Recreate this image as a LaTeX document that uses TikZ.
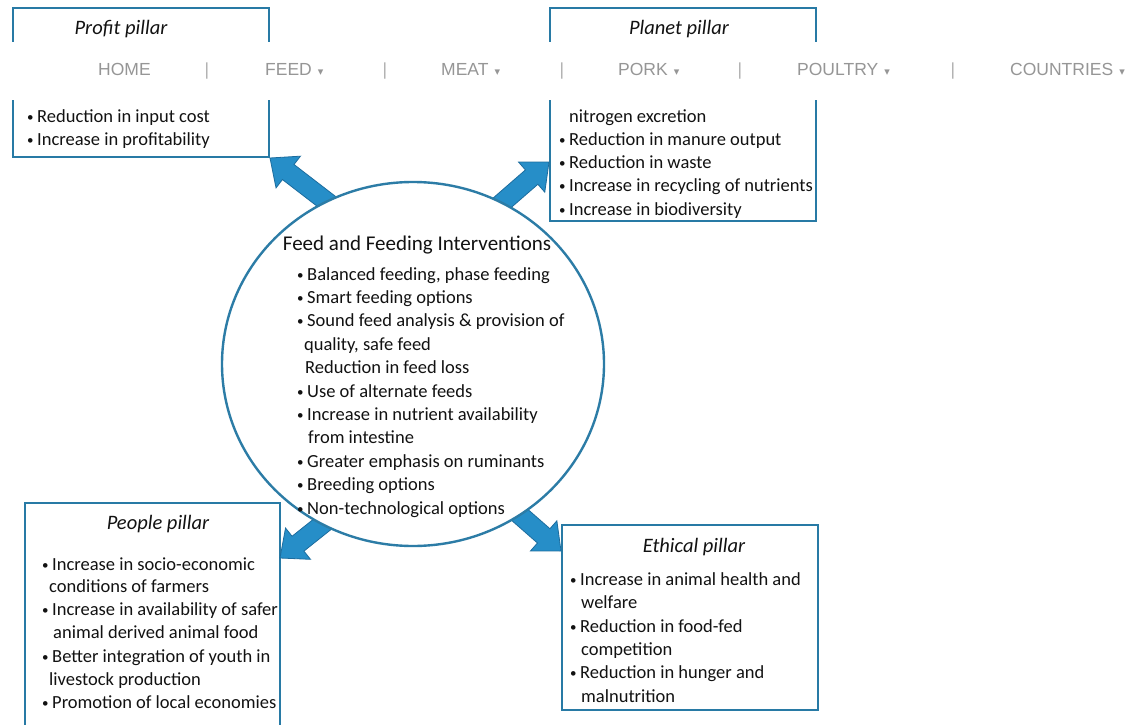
\documentclass[tikz,border=0pt]{standalone}
\usepackage{fontspec}
\setmainfont{Carlito}
\newfontfamily\navfont{Liberation Sans}
\newfontfamily\symfont{DejaVu Sans}
\usetikzlibrary{calc,shapes.geometric}
\definecolor{boxcol}{RGB}{40,122,165}
\definecolor{circcol}{RGB}{44,124,166}
\definecolor{arrfill}{RGB}{38,142,200}
\definecolor{arredge}{RGB}{28,108,158}
\definecolor{txtcol}{RGB}{18,18,18}
\definecolor{navcol}{RGB}{150,150,150}
\definecolor{sepcol}{RGB}{175,175,175}
\newcommand\pbul{\makebox[10pt][l]{\raisebox{1pt}{\fontsize{13}{13}\selectfont •}}}
\newcommand\caret{\hspace{6pt}{\symfont\fontsize{11}{11}\selectfont ▾}}
\newcommand\blockarrow[3]{%
  \coordinate (#1h) at ($(#3)!23pt!(#2)$);
  \draw[blk] ($(#2)!9.5pt!90:(#3)$) -- ($(#1h)!9.5pt!90:(#3)$) -- ($(#1h)!20pt!90:(#3)$) -- (#3)
    -- ($(#1h)!20pt!-90:(#3)$) -- ($(#1h)!9.5pt!-90:(#3)$) -- ($(#2)!9.5pt!-90:(#3)$) -- cycle;
}
\begin{document}
\begin{tikzpicture}[x=1pt,y=-1pt,
  box/.style={draw=boxcol,line width=2.6pt,fill=white,rectangle,inner sep=0pt,outer sep=0pt,anchor=north west},
  txt/.style={anchor=base west,inner sep=0pt,text=txtcol,font=\fontsize{18.5}{22}\selectfont},
  ttl/.style={anchor=base,inner sep=0pt,text=txtcol,font=\fontsize{20.5}{24}\selectfont\itshape},
  ctl/.style={anchor=base,inner sep=0pt,text=txtcol,font=\fontsize{21}{25}\selectfont},
  nav/.style={anchor=base west,inner sep=0pt,text=navcol,font=\navfont\fontsize{17.5}{20}\selectfont},
  navsep/.style={anchor=base,inner sep=0pt,text=sepcol,font=\navfont\fontsize{17.5}{20}\selectfont},
  blk/.style={fill=arrfill,draw=arredge,line width=0.8pt,line join=miter}]
\useasboundingbox (0,0) rectangle (1135,725);
\fill[white] (0,0) rectangle (1135,725);

% pillar boxes
\node[box,minimum width=256pt,minimum height=149pt] (profit) at (13,8) {};
\node[box,minimum width=266pt,minimum height=213pt] (planet) at (550,8) {};
\node[box,minimum width=255pt,minimum height=227pt] (people) at (25,503) {};
\node[box,minimum width=256pt,minimum height=185pt] (ethical) at (562,525) {};

% block arrows (tails hidden under the ellipse)
\coordinate (s1) at (335,208);
\coordinate (s2) at (495,209);
\coordinate (s3) at (334,515);
\coordinate (s4) at (505,502);
\coordinate (t1) at ($(profit.south east)+(1,1)$);
\coordinate (t2) at ($(planet.north west)+(-1,154)$);
\coordinate (t3) at ($(people.north east)+(0,55)$);
\coordinate (t4) at ($(ethical.north west)+(-1,26)$);
\blockarrow{a1}{s1}{t1}
\blockarrow{a2}{s2}{t2}
\blockarrow{a3}{s3}{t3}
\blockarrow{a4}{s4}{t4}

% central ellipse
\node[ellipse,draw=circcol,line width=2.4pt,fill=white,minimum width=382pt,minimum height=364pt,inner sep=0pt,outer sep=0pt] (circ) at (413,364) {};

% profit text
\node[ttl] (prT) at (121,35) {Profit pillar};
\node[txt] (pr1) at (27,122) {\pbul Reduction in input cost};
\node[txt] (pr2) at (27,145) {\pbul Increase in profitability};

% planet text
\node[ttl] (plT) at (679,35) {Planet pillar};
\node[txt] (pl1) at (569,122) {nitrogen excretion};
\node[txt] (pl2) at (559,145) {\pbul Reduction in manure output};
\node[txt] (pl3) at (559,168) {\pbul Reduction in waste};
\node[txt] (pl4) at (559,191) {\pbul Increase in recycling of nutrients};
\node[txt] (pl5) at (559,215) {\pbul Increase in biodiversity};

% circle text
\node[ctl] (cT) at (417,250) {Feed and Feeding Interventions};
\node[txt] (c1) at (297,280) {\pbul Balanced feeding, phase feeding};
\node[txt] (c2) at (297,303.4) {\pbul Smart feeding options};
\node[txt] (c3) at (297,326.8) {\pbul Sound feed analysis \& provision of};
\node[txt] (c4) at (304,350.2) {quality, safe feed};
\node[txt] (c5) at (305,373.6) {Reduction in feed loss};
\node[txt] (c6) at (297,397) {\pbul Use of alternate feeds};
\node[txt] (c7) at (297,420.4) {\pbul Increase in nutrient availability};
\node[txt] (c8) at (308,443.8) {from intestine};
\node[txt] (c9) at (297,467.2) {\pbul Greater emphasis on ruminants};
\node[txt] (c10) at (297,490.6) {\pbul Breeding options};
\node[txt] (c11) at (297,514) {\pbul Non-technological options};

% people text
\node[ttl] (peT) at (158,529) {People pillar};
\node[txt] (pe1) at (42,570) {\pbul Increase in socio-economic};
\node[txt] (pe2) at (49,592) {conditions of farmers};
\node[txt] (pe3) at (42,615) {\pbul Increase in availability of safer};
\node[txt] (pe4) at (53,638) {animal derived animal food};
\node[txt] (pe5) at (42,662) {\pbul Better integration of youth in};
\node[txt] (pe6) at (49,685) {livestock production};
\node[txt] (pe7) at (42,708) {\pbul Promotion of local economies};

% ethical text
\node[ttl] (etT) at (694,552) {Ethical pillar};
\node[txt] (et1) at (570,585) {\pbul Increase in animal health and};
\node[txt] (et2) at (581,608) {welfare};
\node[txt] (et3) at (570,632) {\pbul Reduction in food-fed};
\node[txt] (et4) at (581,655) {competition};
\node[txt] (et5) at (570,678) {\pbul Reduction in hunger and};
\node[txt] (et6) at (581,702) {malnutrition};

% navigation bar overlay
\node[fill=white,inner sep=0pt,outer sep=0pt,minimum width=1135pt,minimum height=58pt,anchor=north west] (navbar) at (0,42) {};
\node[nav] (n1) at (98,76) {HOME};
\node[navsep] (ns1) at (207,76) {|};
\node[nav] (n2) at (265,76) {FEED\caret};
\node[navsep] (ns2) at (385,76) {|};
\node[nav] (n3) at (441,76) {MEAT\caret};
\node[navsep] (ns3) at (562,76) {|};
\node[nav] (n4) at (618,76) {PORK\caret};
\node[navsep] (ns4) at (740,76) {|};
\node[nav] (n5) at (797,76) {POULTRY\caret};
\node[navsep] (ns5) at (953,76) {|};
\node[nav] (n6) at (1010,76) {COUNTRIES\caret};
\end{tikzpicture}
\end{document}
